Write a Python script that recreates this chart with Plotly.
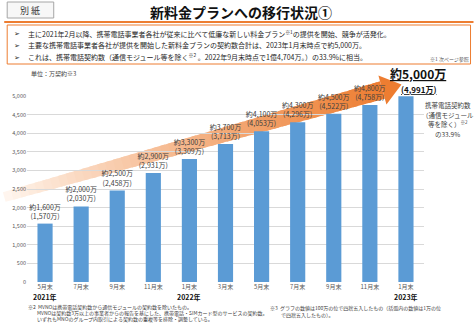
import math
import plotly.graph_objects as go

# ---- data ----
months = ["5月末", "7月末", "9月末", "11月末", "1月末", "3月末",
          "5月末", "7月末", "9月末", "11月末", "1月末"]
contracts = [1570, 2030, 2458, 2931, 3309, 3713, 4053, 4296, 4522, 4758, 4991]
year_index = [0, 4, 10]
year_labels = ["2021年", "2022年", "2023年"]
y_ticks = [0, 500, 1000, 1500, 2000, 2500, 3000, 3500, 4000, 4500, 5000]

bullets = [
    "主に2021年2月以降、携帯電話事業者各社が従来に比べて低廉な新しい料金プラン<sup>※1</sup>の提供を開始、競争が活発化。",
    "主要な携帯電話事業者各社が提供を開始した新料金プランの契約数合計は、2023年1月末時点で約5,000万。",
    "これは、携帯電話契約数（通信モジュール等を除く<sup>※2</sup> 。2022年9月末時点で1億4,704万。）の33.9%に相当。",
]
note_lines = ["携帯電話契約数", "（通信モジュール", "等を除く）<sup>※2</sup>", "の33.9%"]

# ---- geometry helpers (figure pixels -> paper coordinates) ----
W, H = 474, 327
L, R, T, B = 23, 50, 96, 45
PW, PH = W - L - R, H - T - B
FONT = "Noto Sans CJK JP, DejaVu Sans, sans-serif"
ORANGE = "#ED7D31"


def px(x):
    return (x - L) / PW


def py(y):
    return (H - B - y) / PH


def label_round(v):
    return int(round(v / 100.0)) * 100


bar_text = [f"約{label_round(v):,}万<br>({v:,}万)" for v in contracts]
bar_text[-1] = " "

fig = go.Figure()
fig.add_trace(go.Bar(
    x=list(range(len(contracts))), y=contracts,
    marker=dict(color="#5B9BD5", line=dict(width=0)),
    width=0.42,
    text=bar_text, textposition="outside", constraintext="none",
    cliponaxis=False,
    textfont=dict(family=FONT, size=7, color="#404040"),
    hoverinfo="skip",
))

shapes = []

# ---- gradient arrow rising across the bars ----
S = (0.0, 197.0)
Bc = (382.0, 90.0)
dx, dy = Bc[0] - S[0], Bc[1] - S[1]
ln = math.hypot(dx, dy)
ux, uy = dx / ln, dy / ln
nx, ny = -uy, ux
w0, w1 = 5.0, 9.0
N = 48
c_start = (255, 248, 242)
c_end = (237, 125, 49)


def pt(t, side):
    w = w0 + (w1 - w0) * t
    cx, cy = S[0] + dx * t, S[1] + dy * t
    return (cx + side * nx * w, cy + side * ny * w)


def path(points):
    return "M " + " L ".join(f"{px(a):.5f},{py(b):.5f}" for a, b in points) + " Z"


for i in range(N):
    t0 = i / N
    t1 = min(1.0, (i + 1.6) / N)
    tm = (i + 0.5) / N
    f = tm ** 0.85
    col = tuple(int(round(c_start[k] + (c_end[k] - c_start[k]) * f)) for k in range(3))
    pts = [pt(t0, 1), pt(t1, 1), pt(t1, -1), pt(t0, -1)]
    shapes.append(dict(type="path", xref="paper", yref="paper", path=path(pts),
                       fillcolor=f"rgb{col}", line=dict(width=0), layer="between"))

head = [(Bc[0] + nx * 15, Bc[1] + ny * 15), (Bc[0] + ux * 20, Bc[1] + uy * 20),
        (Bc[0] - nx * 15, Bc[1] - ny * 15)]
shapes.append(dict(type="path", xref="paper", yref="paper", path=path(head),
                   fillcolor=ORANGE, line=dict(width=0), layer="between"))

# ---- header decoration ----
shapes.append(dict(type="rect", xref="paper", yref="paper",
                   x0=px(3), x1=px(50), y0=py(2), y1=py(18),
                   fillcolor="#F7F7F7", line=dict(color="#A6A6A6", width=1)))
shapes.append(dict(type="line", xref="paper", yref="paper",
                   x0=px(0), x1=px(474), y0=py(22), y1=py(22),
                   line=dict(color=ORANGE, width=2)))
shapes.append(dict(type="rect", xref="paper", yref="paper",
                   x0=px(3), x1=px(471), y0=py(25), y1=py(64),
                   fillcolor="rgba(0,0,0,0)", line=dict(color=ORANGE, width=1)))

ann = []


def text(x, y, s, size, color="#262626", xanchor="center", bold=False, **kw):
    if bold:
        s = f"<b>{s}</b>"
    ann.append(dict(x=px(x), y=py(y), xref="paper", yref="paper", text=s,
                    showarrow=False, xanchor=xanchor, yanchor="middle",
                    font=dict(family=FONT, size=size, color=color), **kw))


text(26.5, 10.5, "別 紙", 9, "#333333")
text(239, 12, "新料金プランへの移行状況①", 14, "#111111", bold=True)
for i, b in enumerate(bullets):
    yy = 33 + 12 * i
    text(8, yy, "➢", 7, "#262626", xanchor="left")
    text(22, yy, b, 7, "#262626", xanchor="left")
text(450, 59, "※1 次ページ参照", 5, "#595959")
text(25, 73, "単位：万契約※3", 6, "#404040", xanchor="left")

# right-hand note, one line per annotation
for i, line in enumerate(note_lines):
    text(448, 105 + 9.5 * i, line, 6.5, "#404040")

# final bar label
last = len(contracts) - 1
ann.append(dict(x=last, y=contracts[last], xref="x", yref="y",
                text=f"<b>約{label_round(contracts[last]):,}万</b>", showarrow=False,
                xanchor="center", yanchor="bottom", xshift=12, yshift=12,
                font=dict(family=FONT, size=12, color="#111111", lineposition="under")))
ann.append(dict(x=last, y=contracts[last], xref="x", yref="y",
                text=f"<b>({contracts[last]:,}万)</b>", showarrow=False,
                xanchor="center", yanchor="bottom", xshift=13, yshift=-1,
                font=dict(family=FONT, size=8, color="#111111", lineposition="under")))

# year labels under the axis
for xi, lab in zip(year_index, year_labels):
    ann.append(dict(x=xi, y=py(297), xref="x", yref="paper", text=f"<b>{lab}</b>",
                    showarrow=False, xanchor="center", yanchor="middle",
                    font=dict(family=FONT, size=7, color="#111111")))

# footnotes
text(22, 306.5, "※2  MVNOは携帯電話契約数から通信モジュールの契約数を除いたもの。", 5, "#404040", xanchor="left")
text(31, 312.5, "MVNOは契約数3万以上の事業者からの報告を基にした、携帯電話・SIMカード型のサービスの契約数。", 5, "#404040", xanchor="left")
text(31, 318.5, "いずれもMNOのグループ内取引による契約数の重複等を排除・調整している。", 5, "#404040", xanchor="left")
text(266, 308, "※3  グラフの数値は100万の位で四捨五入したもの（括弧内の数値は1万の位", 5, "#404040", xanchor="left")
text(278, 315, "で四捨五入したもの）。", 5, "#404040", xanchor="left")

fig.update_layout(
    width=W, height=H,
    margin=dict(l=L, r=R, t=T, b=B, pad=0),
    paper_bgcolor="white", plot_bgcolor="white",
    showlegend=False,
    shapes=shapes, annotations=ann,
    xaxis=dict(range=[-0.5, len(contracts) - 0.5], tickmode="array",
               tickvals=list(range(len(months))), ticktext=months,
               showgrid=False, zeroline=False, showline=False, ticks="",
               tickfont=dict(family=FONT, size=6, color="#595959")),
    yaxis=dict(range=[0, 5000], tickmode="array", tickvals=y_ticks,
               ticktext=[f"{v:,}" for v in y_ticks],
               showgrid=True, gridcolor="#D9D9D9", gridwidth=1,
               zeroline=False, showline=False, ticks="",
               tickfont=dict(family=FONT, size=5.5, color="#595959")),
)

fig.write_html("out.html")
